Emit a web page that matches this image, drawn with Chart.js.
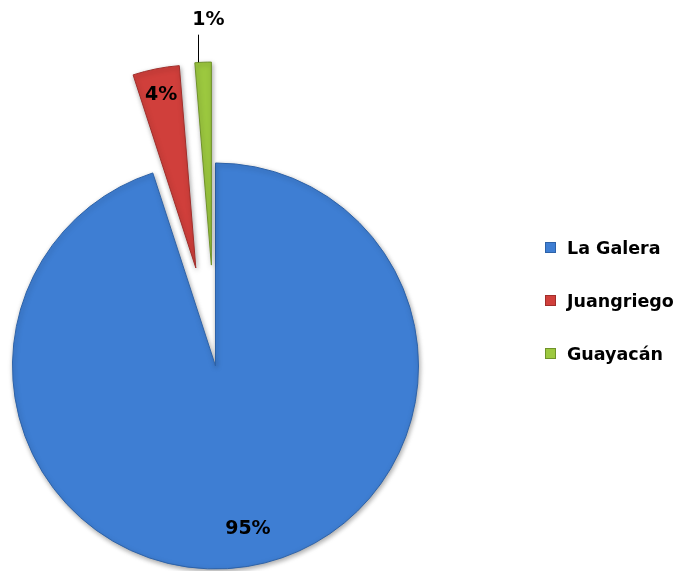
<!DOCTYPE html>
<html>
<head>
<meta charset="utf-8">
<script src="https://cdn.jsdelivr.net/npm/chart.js@4/dist/chart.umd.min.js"></script>
<style>
  html, body { margin: 0; padding: 0; background: #ffffff; }
  #wrap { position: relative; width: 684px; height: 571px; }
  #legend { position: absolute; left: 545px; top: 0; font-family: "DejaVu Sans", sans-serif; font-weight: bold; font-size: 17.5px; color: #000; }
  .item { position: absolute; left: 0; white-space: nowrap; height: 22px; line-height: 22px; }
  .box { position: absolute; left: 0; top: 5px; width: 11px; height: 11px; box-sizing: border-box; }
  .txt { position: absolute; left: 22px; top: 0; }
</style>
</head>
<body>
<div id="wrap">
  <canvas id="c" width="684" height="571"></canvas>
  <div id="legend"></div>
</div>
<script>
const categories = ["La Galera", "Juangriego", "Guayacán"];
const values = [95, 3.7, 1.3];
const percentLabels = ["95%", "4%", "1%"];
const colors = ["#3e7ed3", "#d03f3b", "#9cc83f"];
const borderColors = ["#2d62a8", "#a02e2b", "#6f922a"];
// explode distance of each slice, in pixels
const explodePx = [0, 100, 101];

// draw each arc element with an exploded translation (keeps full radius and angle)
const explodePlugin = {
  id: 'explodeSlices',
  beforeDatasetDraw(chart, args) {
    const ctx = chart.ctx;
    const meta = args.meta;
    meta.data.forEach((arc, i) => {
      const p = arc.getProps(['startAngle', 'endAngle']);
      const mid = (p.startAngle + p.endAngle) / 2;
      ctx.save();
      ctx.shadowColor = 'rgba(0,0,0,0.35)';
      ctx.shadowBlur = 5;
      ctx.shadowOffsetX = 1;
      ctx.shadowOffsetY = 2;
      ctx.translate(Math.cos(mid) * explodePx[i], Math.sin(mid) * explodePx[i]);
      arc.draw(ctx);
      ctx.restore();
    });
    return false;
  }
};

const labelNudge = [[7, 3], [0, 0], [0, 0]];
const labelPlugin = {
  id: 'sliceLabels',
  afterDatasetsDraw(chart) {
    const ctx = chart.ctx;
    const meta = chart.getDatasetMeta(0);
    const R = meta.controller.outerRadius;
    ctx.save();
    ctx.font = 'bold 19px "DejaVu Sans", sans-serif';
    ctx.fillStyle = '#000';
    ctx.textAlign = 'center';
    ctx.textBaseline = 'middle';
    const factors = [0.80, 0.87, 1.21];
    meta.data.forEach((arc, i) => {
      const p = arc.getProps(['x', 'y', 'startAngle', 'endAngle']);
      const mid = (p.startAngle + p.endAngle) / 2;
      const off = explodePx[i];
      const cx = p.x + Math.cos(mid) * off;
      const cy = p.y + Math.sin(mid) * off;
      const r = R * factors[i];
      let lx = cx + Math.cos(mid) * r + labelNudge[i][0];
      const ly = cy + Math.sin(mid) * r + labelNudge[i][1];
      if (i === 2) {
        const ex = Math.round(cx + Math.cos(mid) * R) - 4.5;
        ctx.strokeStyle = '#000';
        ctx.lineWidth = 1;
        ctx.beginPath();
        ctx.moveTo(ex, ly + 15);
        ctx.lineTo(ex, cy + Math.sin(mid) * R);
        ctx.stroke();
        lx = ex + 10;
      }
      ctx.fillText(percentLabels[i], lx, ly);
    });
    ctx.restore();
  }
};

const chart = new Chart(document.getElementById('c'), {
  type: 'pie',
  data: {
    labels: categories,
    datasets: [{
      data: values,
      backgroundColor: colors,
      borderColor: borderColors,
      borderWidth: 1,
      clip: false
    }]
  },
  options: {
    responsive: false,
    animation: false,
    radius: 203,
    layout: { padding: { left: 0, right: 253, top: 161, bottom: 0 } },
    plugins: {
      legend: { display: false },
      tooltip: { enabled: false }
    }
  },
  plugins: [explodePlugin, labelPlugin]
});

const legendEl = document.getElementById('legend');
const rowCenters = [248, 301, 354];
categories.forEach((name, i) => {
  const item = document.createElement('div');
  item.className = 'item';
  item.style.top = (rowCenters[i] - 11) + 'px';
  const box = document.createElement('div');
  box.className = 'box';
  box.style.background = colors[i];
  box.style.border = '1px solid ' + borderColors[i];
  const txt = document.createElement('span');
  txt.className = 'txt';
  txt.textContent = name;
  item.appendChild(box);
  item.appendChild(txt);
  legendEl.appendChild(item);
});
</script>
</body>
</html>
